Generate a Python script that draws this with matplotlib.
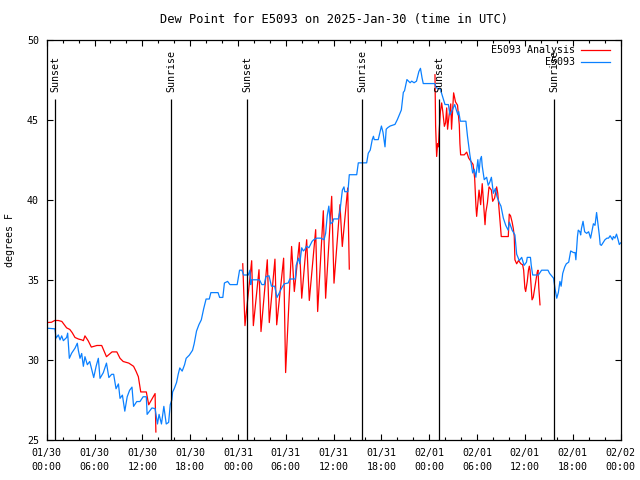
import numpy as np
import matplotlib
matplotlib.use("Agg")
import matplotlib.pyplot as plt

# hours since 2025-01-30 00:00 UTC
obs_hours = [0.0, 1.04, 1.17, 1.46, 1.67, 1.88, 2.09, 2.5, 2.63, 2.84, 3.13, 3.55, 3.84, 3.97,
             4.18, 4.39, 4.6, 4.8, 5.1, 5.4, 5.6, 5.9, 6.2, 6.48, 6.69, 7.1, 7.5, 7.8, 8.15, 8.4,
             8.7, 9.0, 9.2, 9.5, 9.8, 10.1, 10.4, 10.7, 10.9, 11.3, 11.7, 12.1, 12.5, 12.6, 13.2,
             13.6, 13.9, 14.1, 14.4, 14.7, 15.0, 15.3, 15.5, 15.7, 15.8, 16.0, 16.3, 16.5, 16.7,
             17.0, 17.3, 17.5, 17.9, 18.3, 18.5, 18.8, 19.1, 19.4, 19.7, 20.0, 20.4, 20.6, 21.5,
             21.7, 22.1, 22.3, 22.7, 23.0, 23.4, 23.9, 24.2, 24.5, 24.7, 25.3, 25.5, 25.6, 25.7,
             26.7, 27.0, 27.3, 27.5, 27.9, 28.2, 28.6, 28.9, 29.2, 29.5, 29.8, 30.3, 30.5, 31.2,
             31.3, 31.6, 31.75, 32.0, 32.2, 32.4, 32.6, 32.9, 33.3, 33.5, 33.9, 34.4, 34.8, 35.0,
             35.2, 35.4, 35.6, 35.9, 36.0, 36.6, 36.8, 36.9, 37.1, 37.3, 37.4, 37.8, 37.97, 38.9,
             39.1, 40.15, 40.35, 40.6, 40.85, 41.0, 41.1, 41.6, 42.0, 42.2, 42.45, 42.6, 42.8,
             43.1, 43.7, 44.0, 44.25, 44.5, 44.75, 44.9, 45.2, 45.4, 45.6, 45.8, 46.1, 46.4, 46.7,
             46.9, 47.1, 47.25, 48.7, 48.9, 49.4, 49.6, 49.98, 50.4, 50.6, 50.9, 51.2, 51.4, 51.6,
             51.7, 51.9, 52.6, 52.8, 53.1, 53.45, 53.65, 53.85, 54.1, 54.25, 54.4, 54.55, 54.65,
             54.9, 55.2, 55.4, 55.6, 55.8, 56.05, 56.3, 56.5, 56.8, 57.0, 57.3, 57.6, 57.9, 58.05,
             58.4, 58.75, 58.97, 59.3, 59.6, 59.9, 60.2, 60.3, 60.7, 60.8, 60.98, 61.7, 62.1, 62.9,
             63.1, 63.6, 63.8, 64.0, 64.2, 64.4, 64.55, 64.75, 65.0, 65.2, 65.5, 65.75, 66.1, 66.3,
             66.4, 66.6, 66.7, 66.9, 67.0, 67.1, 67.3, 67.5, 67.75, 68.0, 68.25, 68.4, 68.6, 68.8,
             69.0, 69.15, 69.35, 69.45, 69.6, 69.8, 70.05, 70.3, 70.5, 70.7, 71.0, 71.1, 71.3,
             71.5, 71.7, 71.85, 72.0]
obs_dewpt = [31.98, 31.94, 31.36, 31.56, 31.25, 31.5, 31.2, 31.4, 31.67, 30.1, 30.42, 30.73, 31.04,
             30.6, 30.1, 30.4, 29.6, 30.2, 29.7, 29.9, 29.5, 28.9, 29.6, 30.1, 28.85, 29.2, 29.8,
             28.9, 29.1, 29.1, 28.2, 28.5, 27.6, 27.8, 26.8, 27.7, 28.1, 28.3, 27.1, 27.4, 27.4,
             27.7, 27.7, 26.6, 27.0, 26.96, 26.0, 26.6, 26.0, 27.1, 26.0, 26.1, 27.2, 27.5, 28.0,
             28.2, 28.6, 29.1, 29.5, 29.3, 29.7, 30.1, 30.3, 30.6, 31.0, 31.8, 32.2, 32.5, 33.2,
             33.8, 33.8, 34.2, 34.2, 33.9, 33.9, 34.8, 34.9, 34.7, 34.7, 34.7, 35.6, 35.6, 35.3,
             35.3, 35.6, 34.7, 35.0, 35.0, 34.7, 34.7, 35.2, 35.25, 34.6, 34.6, 33.9, 34.2, 34.5,
             34.75, 34.8, 35.05, 35.05, 35.9, 36.35, 36.0, 37.0, 36.8, 36.9, 37.1, 37.0, 37.4, 37.5,
             37.6, 37.6, 37.5, 37.9, 39.0, 39.6, 38.5, 38.6, 38.8, 38.8, 39.3, 39.75, 40.6, 40.8,
             40.5, 40.5, 41.56, 41.56, 42.3, 42.3, 42.9, 43.1, 43.75, 43.96, 43.75, 43.75, 44.6,
             44.2, 43.3, 44.4, 44.5, 44.6, 44.7, 45.0, 45.3, 45.6, 46.7, 46.8, 47.5, 47.4, 47.3,
             47.4, 47.3, 47.4, 48.0, 48.2, 47.6, 47.25, 47.25, 46.98, 46.9, 46.56, 45.94, 45.94,
             45.3, 45.6, 45.94, 45.6, 45.3, 45.5, 44.9, 44.9, 43.96, 42.8, 41.67, 41.9, 41.4, 42.5,
             41.7, 42.5, 42.7, 42.1, 41.25, 41.4, 40.9, 41.1, 41.4, 40.4, 40.7, 40.2, 39.8, 39.6,
             38.85, 38.4, 38.1, 38.6, 38.1, 37.8, 36.6, 36.2, 36.4, 35.9, 36.1, 36.4, 36.4, 35.9,
             35.3, 35.3, 35.6, 35.6, 35.4, 35.1, 34.4, 33.85, 34.2, 34.9, 34.6, 35.4, 35.8, 36.0,
             36.1, 36.8, 36.7, 36.7, 36.25, 37.7, 38.1, 38.0, 37.8, 38.2, 38.65, 38.0, 37.9, 38.0,
             37.6, 38.0, 38.5, 38.4, 39.2, 38.6, 37.75, 37.2, 37.15, 37.3, 37.5, 37.6, 37.6, 37.75,
             37.5, 37.7, 37.6, 37.85, 37.5, 37.2, 37.3]

nan = np.nan
ana_hours = [0.0, 0.6, 1.0, 1.46, 1.9, 2.5, 2.9, 3.2, 3.55, 4.0, 4.4, 4.6, 4.8, 5.2, 5.6, 6.3, 6.9,
             7.5, 8.2, 8.8, 9.2, 9.6, 10.3, 10.9, 11.2, 11.5, 11.8, 12.5, 12.8, 13.6, 13.7, 19.0,
             24.6, 24.88, 25.72, 25.93, 26.64, 26.89, 27.68, 27.93, 28.64, 28.86, 29.73, 29.98,
             30.73, 31.07, 31.7, 32.0, 32.62, 32.95, 33.75, 34.0, 34.71, 35.0, 35.76, 36.05, 36.8,
             37.09, 37.77, 37.97, 43.0,
             48.72, 48.8, 48.93, 49.05, 49.15, 49.26, 49.4, 49.56, 49.7, 49.9, 50.05, 50.19, 50.3,
             50.5, 50.7, 50.8, 50.95, 51.06, 51.3, 51.55, 51.77, 51.85, 51.94, 52.4, 52.7, 52.95,
             53.3, 53.5, 53.7, 53.86, 53.95, 54.1, 54.25, 54.45, 54.65, 55.0, 55.1, 55.3, 55.5,
             55.8, 55.96, 56.2, 56.46, 56.6, 56.8, 56.9, 57.04, 57.92, 58.04, 58.2, 58.4, 58.55,
             58.67, 58.75, 58.97, 59.2, 59.5, 59.72, 59.85, 60.0, 60.1, 60.3, 60.45, 60.56, 60.65,
             60.8, 60.9, 61.05, 61.2, 61.4, 61.56, 61.65, 61.75, 61.9]
ana_dewpt = [32.33, 32.35, 32.46, 32.46, 32.4, 32.0, 31.9, 31.7, 31.4, 31.3, 31.25, 31.2, 31.5,
             31.2, 30.8, 30.9, 30.9, 30.2, 30.5, 30.5, 30.1, 29.9, 29.8, 29.6, 29.3, 28.95, 28.0,
             28.0, 27.2, 27.9, 25.5, nan,
             36.0, 32.14, 36.19, 32.14, 35.63, 31.77, 36.25, 32.33, 36.29, 32.19, 36.35, 29.21,
             37.08, 34.27, 37.33, 33.85, 37.5, 33.71, 38.13, 33.02, 39.31, 33.85, 40.21, 34.79,
             39.69, 37.08, 40.73, 35.67, nan,
             47.8, 44.6, 42.7, 43.5, 43.3, 44.4, 45.5, 46.04, 45.5, 44.58, 44.8, 45.73, 44.4, 45.3,
             45.98, 44.4, 45.7, 46.67, 46.1, 45.9, 44.68, 43.5, 42.8, 42.8, 42.97, 42.6, 42.35,
             42.2, 41.35, 39.6, 38.96, 39.8, 40.6, 39.69, 41.0, 38.44, 39.2, 39.8, 40.8, 40.6,
             39.9, 40.1, 40.8, 40.4, 39.2, 38.6, 37.7, 37.7, 39.1, 39.0, 38.6, 38.2, 37.7, 36.25,
             36.0, 36.2, 36.0, 35.94, 35.6, 34.48, 34.27, 34.9, 35.6, 35.85, 35.6, 34.5, 33.75,
             33.9, 34.38, 35.0, 35.5, 35.6, 34.5, 33.44]

sun_hours = [1.04, 15.6, 25.17, 39.6, 49.26, 63.7]
sun_names = ["Sunset", "Sunrise", "Sunset", "Sunrise", "Sunset", "Sunrise"]

tick_hours = [0, 6, 12, 18, 24, 30, 36, 42, 48, 54, 60, 66, 72]
tick_labels = ["01/30\n00:00", "01/30\n06:00", "01/30\n12:00", "01/30\n18:00",
               "01/31\n00:00", "01/31\n06:00", "01/31\n12:00", "01/31\n18:00",
               "02/01\n00:00", "02/01\n06:00", "02/01\n12:00", "02/01\n18:00",
               "02/02\n00:00"]

plt.rcParams['font.family'] = 'DejaVu Sans Mono'
plt.rcParams['font.size'] = 7.2

fig = plt.figure(figsize=(6.4, 4.8), dpi=100)
ax = fig.add_axes([46.7 / 640, 40 / 480, (620.5 - 46.7) / 640, (440 - 39.5) / 480])

red = '#ff0000'
blue = '#0a80ff'

ax.plot(ana_hours, ana_dewpt, color=red, lw=0.9)
ax.plot(obs_hours, obs_dewpt, color=blue, lw=0.9)

for h, name in zip(sun_hours, sun_names):
    ax.vlines(h, 25, 46.3, color='black', lw=0.9)
    ax.text(h, 46.7, name, rotation=90, ha='center', va='bottom')

ax.set_xlim(0, 72)
ax.set_ylim(25, 50)
ax.set_xticks(tick_hours)
ax.set_xticklabels(tick_labels, linespacing=1.45)
ax.set_xticks(np.arange(0, 73, 2), minor=True)
ax.set_yticks([25, 30, 35, 40, 45, 50])
ax.tick_params(which='both', direction='in', top=True, right=True, width=0.8)
ax.tick_params(axis='x', which='major', length=4.5, pad=6)
ax.tick_params(axis='x', which='minor', length=2.5)
ax.tick_params(axis='y', which='major', length=4.5, pad=5.5)
for s in ax.spines.values():
    s.set_linewidth(0.9)

ax.set_title("Dew Point for E5093 on 2025-Jan-30 (time in UTC)", pad=12)
fig.text(10 / 640, 0.5, "degrees F", rotation=90, ha='center', va='center')

# legend, gnuplot style (text right-aligned, sample to the right)
ax.text(0.9207, 0.975, "E5093 Analysis", transform=ax.transAxes, ha='right', va='center')
ax.plot([0.9312, 0.9817], [0.975, 0.975], color=red, lw=0.9, transform=ax.transAxes)
ax.text(0.9207, 0.943, "E5093", transform=ax.transAxes, ha='right', va='center')
ax.plot([0.9312, 0.9817], [0.943, 0.943], color=blue, lw=0.9, transform=ax.transAxes)

fig.savefig("out.png", dpi=100)
